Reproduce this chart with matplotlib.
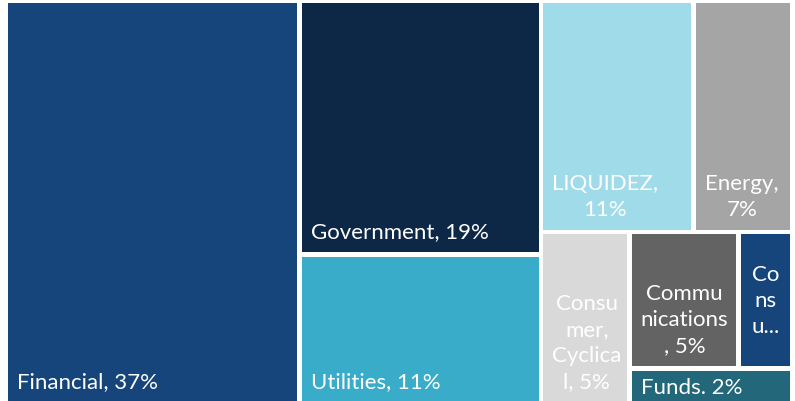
import matplotlib.pyplot as plt
from matplotlib.patches import Rectangle

# sector weights (%)
sectors = ["Financial", "Government", "Utilities", "LIQUIDEZ", "Energy",
           "Consumer, Cyclical", "Communications", "Consumer, Non-cyclical", "Funds"]
weights = [37.4, 19.3, 11.4, 11.14, 7.18, 4.82, 4.68, 2.31, 1.87]
labels = ["Financial, 37%", "Government, 19%", "Utilities, 11%", "LIQUIDEZ,\n11%",
          "Energy,\n7%", "Consu\nmer,\nCyclica\nl, 5%", "Commu\nnications\n, 5%",
          "Co\nns\nu...", "Funds. 2%"]
colors = ["#15457a", "#0d2847", "#38acc8", "#a0dbea", "#a5a5a5",
          "#d9d9d9", "#636363", "#15457a", "#22687a"]

# nesting of the treemap (Excel's layout), each group split along its longer side
tree = [0, [1, 2], [[3, 4], [5, [[6, 7], 8]]]]


def total(node):
    if isinstance(node, list):
        return sum(total(n) for n in node)
    return weights[node]


def layout(node, x, y, w, h, out):
    if not isinstance(node, list):
        out[node] = (x, y, w, h)
        return
    s = total(node)
    for child in node:
        f = total(child) / s
        if w >= h:
            layout(child, x, y, w * f, h, out)
            x += w * f
        else:
            layout(child, x, y, w, h * f, out)
            y += h * f


fig = plt.figure(figsize=(7.95, 4.02), dpi=100)
ax = fig.add_axes([0, 0, 1, 1])
ax.set_xlim(0, 795)
ax.set_ylim(402, 0)
ax.axis("off")

rects = {}
layout(tree, 5.75, 1.75, 786.5, 404, rects)
gap = 2.25
txt = dict(color="white", fontsize=16, family="Lato", multialignment="center",
           linespacing=1.38)

for i, (x, y, w, h) in rects.items():
    ax.add_patch(Rectangle((x + gap, y + gap), w - 2 * gap, h - 2 * gap,
                           facecolor=colors[i], edgecolor="none"))
    if labels[i].endswith("..."):
        # truncated label sits in the middle of its box
        ax.text(x + w / 2, y + h / 2, labels[i], ha="center", va="center", **txt)
    elif h < 50:
        # short box: label hangs from the top and runs off the edge
        ax.text(x + gap + 9, y + gap + 6, labels[i], ha="left", va="top", **txt)
    else:
        ax.text(x + gap + 9, y + h - gap - 11, labels[i], ha="left", va="bottom", **txt)

fig.savefig("out.png", dpi=100)
